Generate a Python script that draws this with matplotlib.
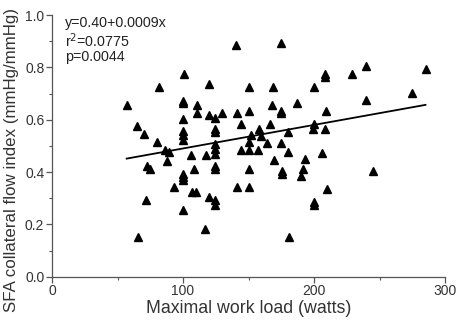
import numpy as np
import matplotlib.pyplot as plt
from matplotlib.ticker import MultipleLocator

plt.rcParams['font.family'] = ['Liberation Sans', 'DejaVu Sans']

# =====================================================
# Data
# =====================================================

work_load = [
    140.2, 100.9, 81.6, 119.8, 150.1, 168.8, 199.7, 174.9, 239.8, 208.1,
    208.1, 229.1, 285.1, 274.9, 239.8, 57.0, 99.9, 99.9, 110.6, 110.6,
    99.9, 119.8, 124.7, 129.9, 140.9, 150.1, 167.8, 186.9, 174.7, 174.7,
    209.0, 144.6, 166.7, 199.9, 199.1, 208.1, 64.6, 70.0, 99.9, 99.9,
    99.9, 124.7, 124.7, 151.8, 158.2, 159.7, 179.8, 80.5, 150.1, 163.8,
    174.7, 86.2, 89.3, 87.5, 105.8, 117.5, 124.7, 124.7, 124.7, 144.6,
    150.3, 157.2, 180.3, 206.0, 169.8, 193.0, 72.5, 74.5, 108.7, 124.7,
    124.7, 150.1, 99.7, 99.7, 99.7, 175.5, 175.5, 191.9, 190.0, 245.1,
    92.9, 107.0, 110.1, 141.5, 150.1, 210.0, 71.9, 119.8, 124.7, 124.7,
    199.9, 199.9, 99.7, 116.7, 65.8, 180.8,
]

flow_index = [
    0.885, 0.775, 0.725, 0.736, 0.725, 0.725, 0.725, 0.894, 0.805, 0.775,
    0.762, 0.775, 0.793, 0.703, 0.675, 0.656, 0.671, 0.662, 0.656, 0.626,
    0.603, 0.616, 0.606, 0.624, 0.624, 0.634, 0.655, 0.665, 0.634, 0.624,
    0.634, 0.583, 0.583, 0.583, 0.564, 0.566, 0.576, 0.545, 0.557, 0.540,
    0.522, 0.563, 0.553, 0.543, 0.563, 0.536, 0.553, 0.513, 0.513, 0.512,
    0.512, 0.484, 0.476, 0.444, 0.464, 0.464, 0.507, 0.488, 0.469, 0.484,
    0.484, 0.484, 0.475, 0.474, 0.445, 0.451, 0.424, 0.413, 0.413, 0.423,
    0.412, 0.413, 0.394, 0.381, 0.370, 0.403, 0.392, 0.413, 0.383, 0.403,
    0.343, 0.324, 0.324, 0.343, 0.343, 0.334, 0.293, 0.303, 0.293, 0.275,
    0.285, 0.274, 0.254, 0.183, 0.153, 0.153,
]

# Regression reported on the figure
intercept = 0.40
slope = 0.0009
stats_text = ["y=0.40+0.0009x", "r$^2$=0.0775", "p=0.0044"]

# =====================================================
# Plot
# =====================================================

fig = plt.figure(figsize=(4.57, 3.22), dpi=100)
ax = fig.add_axes([0.1138, 0.1407, 0.86, 0.8127])

ax.plot(
    work_load,
    flow_index,
    linestyle='none',
    marker='^',
    markersize=6,
    color='black'
)

fit_x = np.array([min(work_load), max(work_load)])
ax.plot(fit_x, intercept + slope * fit_x, color='black', linewidth=1.3)

ax.text(
    0.033, 0.995, "\n".join(stats_text),
    transform=ax.transAxes, va='top', ha='left',
    fontsize=10.3, color='#222222', linespacing=1.05
)

# =====================================================
# Axes style
# =====================================================

ax.set_xlim(0, 300)
ax.set_ylim(0, 1.0)
ax.xaxis.set_major_locator(MultipleLocator(100))
ax.xaxis.set_minor_locator(MultipleLocator(50))
ax.yaxis.set_major_locator(MultipleLocator(0.2))
ax.yaxis.set_minor_locator(MultipleLocator(0.1))
ax.yaxis.set_major_formatter(plt.FormatStrFormatter('%.1f'))

for side in ['top', 'right']:
    ax.spines[side].set_visible(False)
for side in ['left', 'bottom']:
    ax.spines[side].set_color('#555555')
    ax.spines[side].set_linewidth(0.9)

ax.tick_params(which='major', direction='out', length=4, width=0.9,
               color='#555555', labelsize=10, labelcolor='#333333', pad=1.5)
ax.tick_params(which='minor', direction='out', length=2.5, width=0.8,
               color='#555555')

ax.set_xlabel("Maximal work load (watts)", fontsize=12.8, color='#333333',
              labelpad=1)
ax.set_ylabel("SFA collateral flow index (mmHg/mmHg)", fontsize=12.2,
              color='#333333')
# shifted down a little so the long label stays inside the figure
ax.yaxis.set_label_coords(-0.085, 0.445)

plt.savefig("out.png", dpi=100)
